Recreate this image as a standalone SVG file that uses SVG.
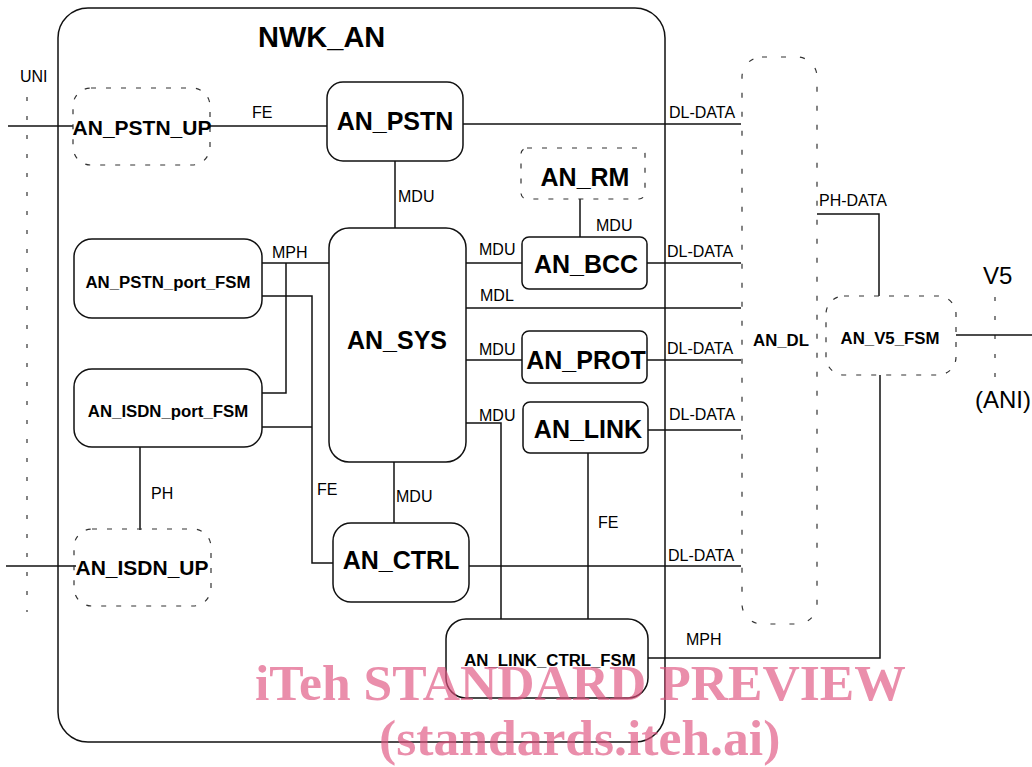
<svg xmlns="http://www.w3.org/2000/svg" width="1032" height="767" viewBox="0 0 1032 767">
<style>
.box{fill:none;stroke:#111;stroke-width:1.5}
.dbox{fill:none;stroke:#333;stroke-width:1.2;stroke-dasharray:5 10}
.dl{fill:none;stroke:#333;stroke-width:1.2;stroke-dasharray:5 14}
.dot{fill:none;stroke:#333;stroke-width:1.2;stroke-dasharray:4 15}
.ln{fill:none;stroke:#111;stroke-width:1.5}
.big{font-family:"Liberation Sans",Arial,sans-serif;font-weight:bold;font-size:25px;fill:#000;text-anchor:middle}
.mid{font-family:"Liberation Sans",Arial,sans-serif;font-weight:bold;font-size:21px;fill:#000;text-anchor:middle}
.sm{font-family:"Liberation Sans",Arial,sans-serif;font-weight:bold;font-size:16.8px;fill:#000;text-anchor:middle}
.lbl{font-family:"Liberation Sans",Arial,sans-serif;font-size:16px;fill:#000}
.v5{font-family:"Liberation Sans",Arial,sans-serif;font-size:24px;fill:#000}
.wm{font-family:"Liberation Serif","Times New Roman",serif;font-weight:bold;font-size:51.6px;fill:#e0527f;opacity:0.65}
</style>
<g id="NWK_AN">
<rect class="box" x="58" y="8" width="607" height="734" rx="30"/>
<text x="258" y="47" font-family="Liberation Sans,Arial,sans-serif" font-weight="bold" font-size="29" fill="#000">NWK_AN</text>
</g>
<g id="UNI">
<line class="dot" x1="27" y1="97" x2="27" y2="612"/>
<text class="lbl" x="20" y="82">UNI</text>
</g>
<g id="V5">
<line class="dot" x1="995" y1="297" x2="995" y2="380"/>
<text class="v5" x="983" y="284">V5</text>
<text class="v5" x="975" y="408">(ANI)</text>
</g>
<g id="connectors">
<line class="ln" x1="8" y1="126" x2="73" y2="126"/>
<line class="ln" x1="210" y1="126" x2="327" y2="126"/>
<line class="ln" x1="463" y1="124" x2="741" y2="124"/>
<line class="ln" x1="395" y1="161" x2="395" y2="228"/>
<line class="ln" x1="580" y1="199" x2="580" y2="237"/>
<line class="ln" x1="466" y1="263" x2="522" y2="263"/>
<line class="ln" x1="647" y1="263" x2="741" y2="263"/>
<line class="ln" x1="466" y1="308" x2="741" y2="308"/>
<line class="ln" x1="466" y1="360" x2="522" y2="360"/>
<line class="ln" x1="647" y1="360" x2="741" y2="360"/>
<line class="ln" x1="648" y1="430" x2="741" y2="430"/>
<polyline class="ln" points="466,423 501,423 501,619"/>
<line class="ln" x1="588" y1="453" x2="588" y2="619"/>
<line class="ln" x1="394" y1="462" x2="394" y2="523"/>
<line class="ln" x1="469" y1="566" x2="741" y2="566"/>
<polyline class="ln" points="648,658 880,658 880,375"/>
<polyline class="ln" points="817,214 879,214 879,296"/>
<line class="ln" x1="956" y1="335" x2="1032" y2="335"/>
<line class="ln" x1="262" y1="263" x2="329" y2="263"/>
<polyline class="ln" points="286,263 286,393 262,393"/>
<polyline class="ln" points="262,296 312,296 312,563 333,563"/>
<line class="ln" x1="262" y1="427" x2="312" y2="427"/>
<line class="ln" x1="140" y1="447" x2="140" y2="530"/>
<line class="ln" x1="6" y1="566" x2="76" y2="566"/>
<text class="lbl" x="252" y="118">FE</text>
<text class="lbl" x="669" y="118">DL-DATA</text>
<text class="lbl" x="398" y="202">MDU</text>
<text class="lbl" x="596" y="231">MDU</text>
<text class="lbl" x="479" y="255">MDU</text>
<text class="lbl" x="667" y="257">DL-DATA</text>
<text class="lbl" x="480" y="301">MDL</text>
<text class="lbl" x="272" y="258">MPH</text>
<text class="lbl" x="479" y="355">MDU</text>
<text class="lbl" x="667" y="354">DL-DATA</text>
<text class="lbl" x="479" y="421">MDU</text>
<text class="lbl" x="669" y="420">DL-DATA</text>
<text class="lbl" x="819" y="206">PH-DATA</text>
<text class="lbl" x="317" y="495">FE</text>
<text class="lbl" x="396" y="502">MDU</text>
<text class="lbl" x="598" y="528">FE</text>
<text class="lbl" x="668" y="561">DL-DATA</text>
<text class="lbl" x="686" y="645">MPH</text>
<text class="lbl" x="151" y="499">PH</text>
</g>
<g id="AN_PSTN_UP">
<rect class="dbox" x="73" y="88" width="137" height="77" rx="18"/>
<text class="mid" x="142" y="135">AN_PSTN_UP</text>
</g>
<g id="AN_PSTN">
<rect class="box" x="327" y="82" width="136" height="79" rx="16"/>
<text class="big" x="395" y="130">AN_PSTN</text>
</g>
<g id="AN_RM">
<rect class="dbox" x="521" y="148" width="124" height="51" rx="6"/>
<text class="big" x="585" y="186">AN_RM</text>
</g>
<g id="AN_BCC">
<rect class="box" x="522" y="237" width="125" height="52" rx="7"/>
<text class="big" x="586" y="273">AN_BCC</text>
</g>
<g id="AN_SYS">
<rect class="box" x="329" y="228" width="137" height="234" rx="20"/>
<text class="big" x="397" y="349">AN_SYS</text>
</g>
<g id="AN_PROT">
<rect class="box" x="522" y="331" width="125" height="52" rx="7"/>
<text class="big" x="586" y="369">AN_PROT</text>
</g>
<g id="AN_LINK">
<rect class="box" x="523" y="402" width="125" height="51" rx="7"/>
<text class="big" x="588" y="438">AN_LINK</text>
</g>
<g id="AN_CTRL">
<rect class="box" x="333" y="523" width="136" height="79" rx="18"/>
<text class="big" x="401" y="569">AN_CTRL</text>
</g>
<g id="AN_LINK_CTRL_FSM">
<rect class="box" x="446" y="619" width="202" height="79" rx="20"/>
<text class="sm" x="550" y="666">AN_LINK_CTRL_FSM</text>
</g>
<g id="AN_PSTN_port_FSM">
<rect class="box" x="74" y="239" width="188" height="79" rx="18"/>
<text class="sm" x="168" y="288">AN_PSTN_port_FSM</text>
</g>
<g id="AN_ISDN_port_FSM">
<rect class="box" x="74" y="369" width="188" height="78" rx="18"/>
<text class="sm" x="168" y="417">AN_ISDN_port_FSM</text>
</g>
<g id="AN_ISDN_UP">
<rect class="dbox" x="74" y="529" width="137" height="77" rx="18"/>
<text class="mid" x="142" y="575">AN_ISDN_UP</text>
</g>
<g id="AN_DL">
<rect class="dl" x="742" y="57" width="75" height="567" rx="20"/>
<text class="sm" x="781" y="346">AN_DL</text>
</g>
<g id="AN_V5_FSM">
<rect class="dbox" x="826" y="296" width="130" height="79" rx="18"/>
<text class="sm" x="890" y="344">AN_V5_FSM</text>
</g>
<g id="watermark">
<text class="wm" x="255" y="700">iTeh STANDARD PREVIEW</text>
<text class="wm" x="379" y="755">(standards.iteh.ai)</text>
</g>
</svg>
